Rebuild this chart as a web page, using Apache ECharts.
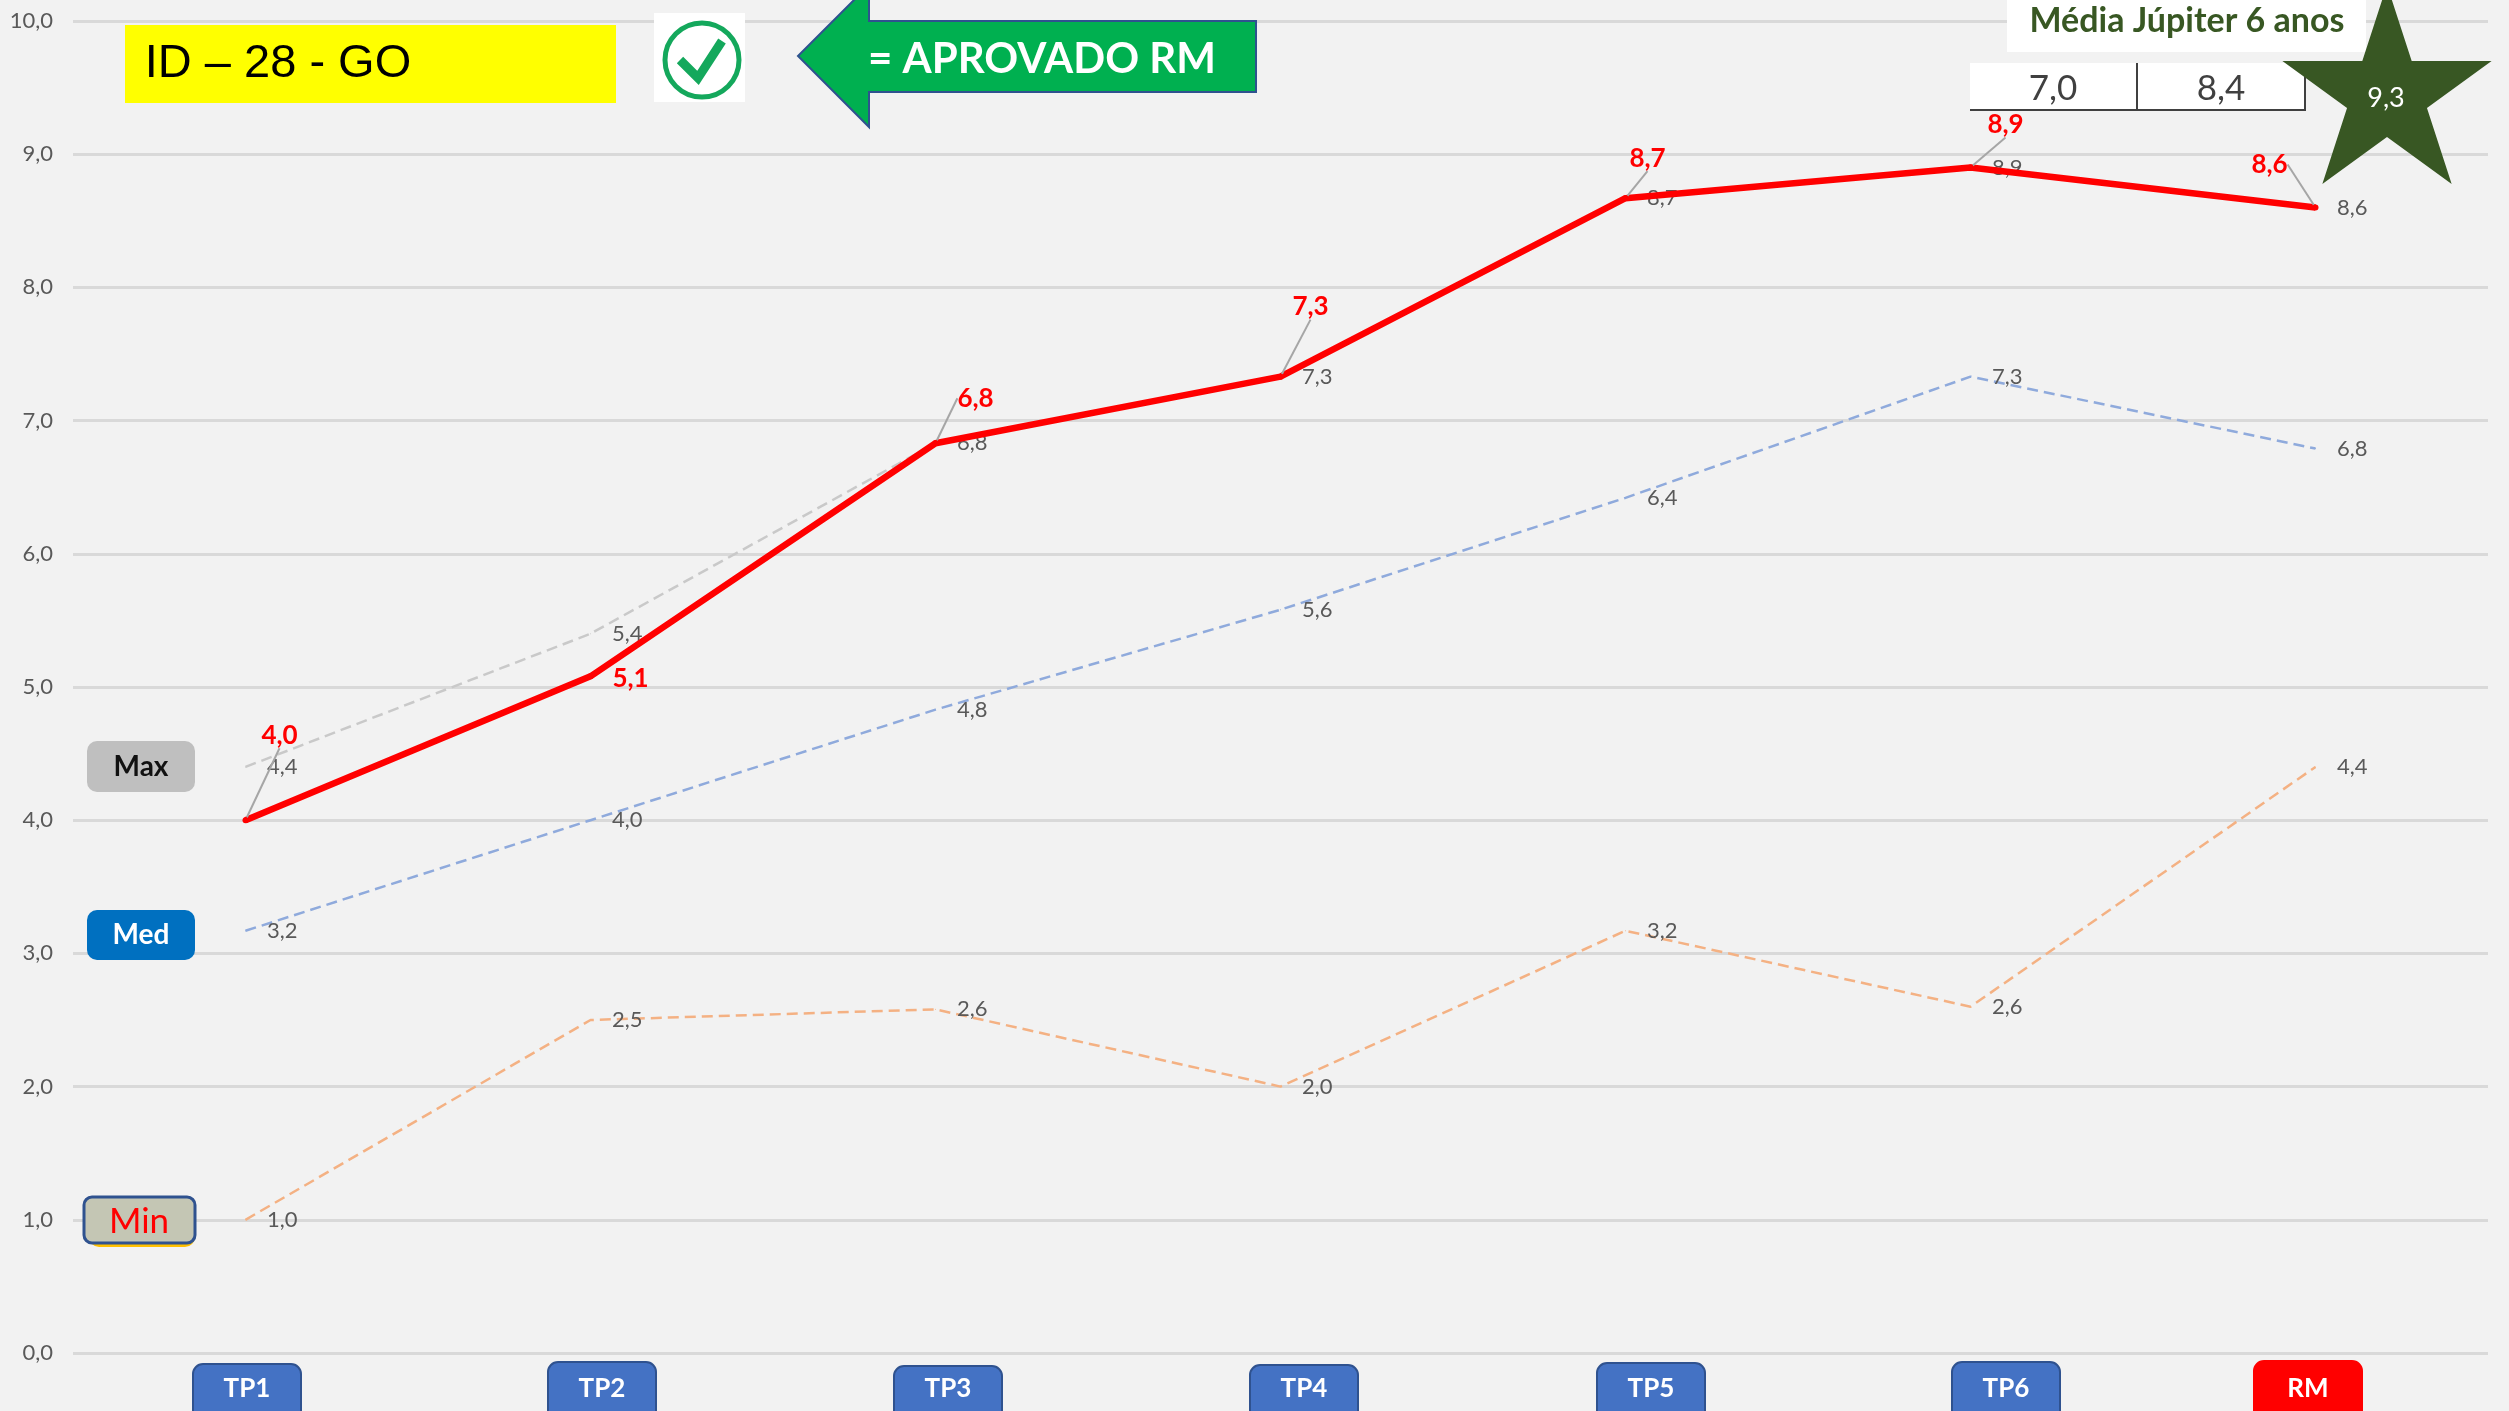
<!DOCTYPE html>
<html>
<head>
<meta charset="utf-8">
<title>ID - 28 - GO</title>
<style>
  html, body { margin: 0; padding: 0; background: #f2f2f2; }
  #chart { width: 2509px; height: 1411px; }
</style>
<script src="https://cdn.jsdelivr.net/npm/echarts@6/dist/echarts.min.js"></script>
</head>
<body>
<div id="chart"></div>
<script>
var categories = ['TP1', 'TP2', 'TP3', 'TP4', 'TP5', 'TP6', 'RM'];
var aluno = [4.0, 5.08, 6.83, 7.33, 8.67, 8.9, 8.6];
var maxValues = [4.4, 5.4, 6.83, 7.33, 8.67, 8.9, 8.6];
var medValues = [3.17, 4.0, 4.83, 5.58, 6.42, 7.33, 6.79];
var minValues = [1.0, 2.5, 2.58, 2.0, 3.17, 2.6, 4.4];
var mediaJupiter = ['7,0', '8,4'];
var mediaEstrela = '9,3';

// manual offsets of the red labels, they sit away from the points
var labelDx = [34, 40, 40, 30, 22, 35, -46];
var labelDy = [-85, 2, -45, -70, -40, -43, -43];
// the buttons under the chart are not lined up with the ticks
var buttonLeft = [193, 548, 894, 1250, 1597, 1952, 2254];
var buttonTop = [1364, 1362, 1366, 1365, 1363, 1362, 1361];

var font = 'Lato';

function fmt(v) {
  return v.toFixed(1).replace('.', ',');
}

function starPoints(cx, cy, r) {
  var pts = [];
  for (var i = 0; i < 10; i++) {
    var rad = i % 2 === 0 ? r : r * 0.382;
    var a = -Math.PI / 2 + i * Math.PI / 5;
    pts.push([cx + rad * Math.cos(a), cy + rad * Math.sin(a)]);
  }
  return pts;
}

function rect(x, y, w, h, fill, r, stroke, lw) {
  return {
    type: 'rect', z: 100,
    shape: { x: x, y: y, width: w, height: h, r: r || 0 },
    style: { fill: fill, stroke: stroke || null, lineWidth: lw || 0 }
  };
}

function text(x, y, str, color, size, weight, family) {
  return {
    type: 'text', z: 103, x: x, y: y,
    style: {
      text: str, fill: color, align: 'center', verticalAlign: 'middle',
      font: (weight || 'normal') + ' ' + size + 'px "' + (family || font) + '"'
    }
  };
}

var graphics = [
  rect(125, 25, 491, 78, '#ffff00'),
  text(278, 64, 'ID – 28 - GO', '#000', 47, 'normal', 'Liberation Sans'),

  rect(654, 13, 91, 89, '#ffffff'),
  { type: 'circle', z: 101, shape: { cx: 702, cy: 60, r: 37 }, style: { fill: 'none', stroke: '#14a85c', lineWidth: 5 } },
  { type: 'polyline', z: 101, shape: { points: [[680, 60], [698, 78], [722, 41]] }, style: { fill: 'none', stroke: '#14a85c', lineWidth: 9 } },

  { type: 'polygon', z: 100, shape: { points: [[798, 56], [869, -15], [869, 21], [1256, 21], [1256, 92], [869, 92], [869, 127]] }, style: { fill: '#00b050', stroke: '#2f528f', lineWidth: 2 } },
  text(1042, 59, '= APROVADO RM', '#ffffff', 42, 'bold'),

  rect(2007, -4, 359, 56, '#ffffff'),
  text(2187, 21, 'Média Júpiter 6 anos', '#385723', 34, 'bold'),
  rect(1970, 63, 167, 47, '#ffffff'),
  rect(2137, 63, 168, 47, '#ffffff'),
  { type: 'polyline', z: 101, shape: { points: [[1970, 110], [2305, 110], [2305, 63]] }, style: { fill: 'none', stroke: '#404040', lineWidth: 2 } },
  { type: 'line', z: 101, shape: { x1: 2137, y1: 63, x2: 2137, y2: 110 }, style: { stroke: '#404040', lineWidth: 2 } },
  text(2053, 89, mediaJupiter[0], '#404040', 35),
  text(2221, 89, mediaJupiter[1], '#404040', 35),
  { type: 'polygon', z: 102, shape: { points: starPoints(2387, 95, 110) }, style: { fill: '#385723' } },
  text(2386, 98, mediaEstrela, '#ffffff', 27, 'normal'),

  rect(87, 741, 108, 51, '#bfbfbf', 10),
  text(141, 767, 'Max', '#111111', 28, 'bold'),
  rect(87, 910, 108, 50, '#0070c0', 10),
  text(141, 935, 'Med', '#ffffff', 28, 'bold'),
  rect(89, 1205, 106, 42, '#ffc000', 10),
  rect(84, 1197, 111, 46, '#c4c6b4', 8, '#2f528f', 3),
  text(139, 1222, 'Min', '#ff0000', 35)
];

categories.forEach(function (name, i) {
  var fill = name === 'RM' ? '#ff0000' : '#4472c4';
  var border = name === 'RM' ? '#ff0000' : '#2f528f';
  graphics.push(rect(buttonLeft[i], buttonTop[i], 108, 70, fill, 10, border, 2));
  graphics.push(text(buttonLeft[i] + 54, 1389, name, '#ffffff', 26, 'bold'));
});

function dashedSeries(name, data, color) {
  return {
    name: name,
    type: 'line',
    data: data,
    symbol: 'circle',
    symbolSize: 1,
    silent: true,
    itemStyle: { color: color },
    lineStyle: { color: color, width: 2.5, type: [11, 6] },
    label: {
      show: true,
      position: 'right',
      distance: 21,
      color: '#595959',
      fontFamily: font,
      fontSize: 22,
      formatter: function (p) { return fmt(p.value); }
    }
  };
}

var myChart = echarts.init(document.getElementById('chart'));
var option = {
  backgroundColor: '#f2f2f2',
  animation: false,
  grid: { left: 73, right: 21, top: 21, bottom: 58 },
  xAxis: {
    type: 'category',
    data: categories,
    axisLine: { show: false },
    axisTick: { show: false },
    axisLabel: { show: false }
  },
  yAxis: {
    type: 'value',
    min: 0,
    max: 10,
    interval: 1,
    axisLine: { show: false },
    axisTick: { show: false },
    axisLabel: {
      color: '#595959',
      fontFamily: font,
      fontSize: 22,
      margin: 20,
      formatter: fmt
    },
    splitLine: { lineStyle: { color: '#d9d9d9', width: 3 } }
  },
  series: [
    dashedSeries('Min', minValues, '#f4b183'),
    dashedSeries('Med', medValues, '#8faadc'),
    dashedSeries('Max', maxValues, '#c9c9c9'),
    {
      name: 'Aluno',
      type: 'line',
      // 5,1 is the only red label with no leader line
      data: aluno.map(function (v, i) {
        return i === 1 ? { value: v, labelLine: { show: false } } : v;
      }),
      z: 5,
      symbol: 'circle',
      symbolSize: 6,
      itemStyle: { color: '#ff0000' },
      lineStyle: { color: '#ff0000', width: 6.5 },
      label: {
        show: true,
        position: 'inside',
        color: '#ff0000',
        fontFamily: font,
        fontWeight: 'bold',
        fontSize: 26,
        formatter: function (p) { return fmt(p.value); }
      },
      labelLine: { show: true, lineStyle: { color: '#a6a6a6', width: 2 } },
      labelLayout: function (p) {
        return { dx: labelDx[p.dataIndex], dy: labelDy[p.dataIndex] };
      }
    }
  ],
  graphic: graphics
};
myChart.setOption(option, true);
</script>
</body>
</html>
